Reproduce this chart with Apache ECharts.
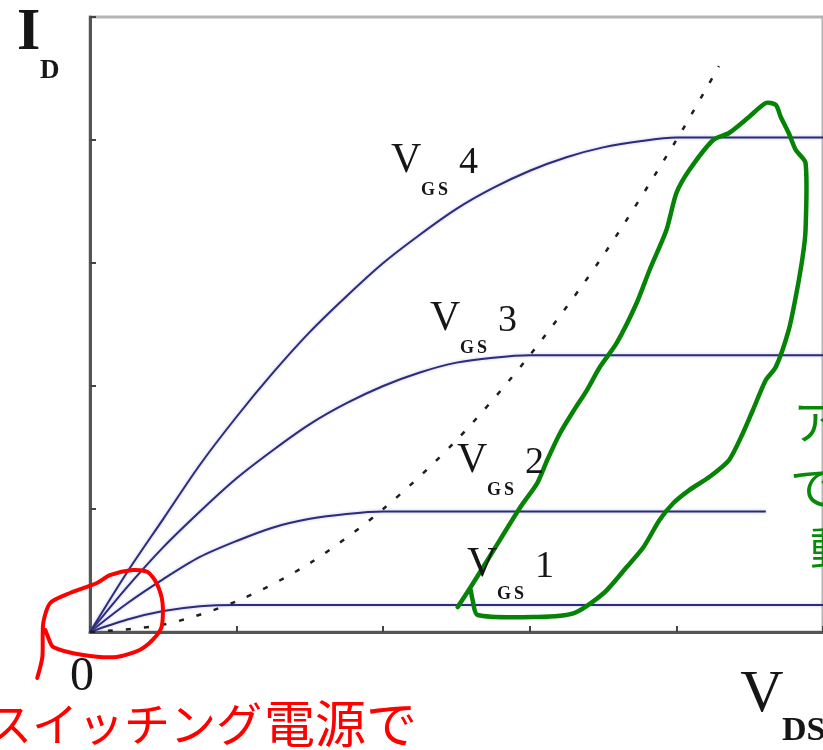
<!DOCTYPE html>
<html>
<head>
<meta charset="utf-8">
<script src="https://cdn.jsdelivr.net/npm/echarts@6/dist/echarts.min.js"></script>
<style>
html, body { margin: 0; padding: 0; background: #fff; }
#chart { width: 823px; height: 750px; }
</style>
</head>
<body>
<div id="chart"></div>
<script>
// V_DS - I_D 特性 (読み取り値)
const vdsRise = [0, 0.25, 0.5, 0.75, 1, 1.25, 1.5, 1.75, 2, 2.25, 2.5, 2.75, 3, 3.25, 3.5, 3.75, 4]
const id4 = [0, 0.48, 0.92, 1.36, 1.75, 2.11, 2.44, 2.73, 3.0, 3.23, 3.44, 3.61, 3.75, 3.86, 3.94, 3.99, 4.02]
const id3 = [0, 0.36, 0.69, 0.98, 1.25, 1.48, 1.69, 1.86, 2.0, 2.11, 2.19, 2.23, 2.25]
const id2 = [0, 0.23, 0.43, 0.61, 0.74, 0.85, 0.92, 0.96, 0.98]
const id1 = [0, 0.1, 0.17, 0.21, 0.22]
const vdsEnd = [5, 5, 4.61, 5] // 右端 (V_GS2 は白い枠で切れる)
// 飽和境界 (点線)
const satX = [0, 0.5, 1, 1.5, 2, 2.5, 3, 3.5, 4, 4.29]
const satY = [0, 0.06, 0.25, 0.56, 1, 1.56, 2.25, 3.06, 4, 4.6]
// 手書きの囲み
const redX = [-0.36, -0.325, -0.319, -0.271, -0.136, 0.047, 0.136, 0.292, 0.393, 0.454, 0.495, 0.488, 0.427, 0.339, 0.183, -0.047, -0.251, -0.292, -0.305]
const redY = [-0.374, -0.203, 0.073, 0.236, 0.317, 0.398, 0.463, 0.504, 0.488, 0.398, 0.236, 0.041, -0.065, -0.146, -0.203, -0.187, -0.122, -0.024, 0.016]
const greenX = [2.508, 2.597, 2.712, 2.936, 3.051, 3.119, 3.207, 3.302, 3.39, 3.478, 3.593, 3.729, 3.817, 3.932, 4.0, 4.088, 4.251, 4.359, 4.495, 4.61, 4.678, 4.712, 4.766, 4.814, 4.881, 4.881, 4.861, 4.814, 4.766, 4.678, 4.61, 4.522, 4.454, 4.359, 4.224, 4.088, 3.98, 3.885, 3.776, 3.661, 3.505, 3.302, 3.051, 2.644, 2.61, 2.597]
const greenY = [0.203, 0.366, 0.585, 1.016, 1.211, 1.398, 1.618, 1.805, 1.967, 2.154, 2.35, 2.675, 2.943, 3.268, 3.569, 3.756, 4.0, 4.057, 4.187, 4.301, 4.285, 4.187, 4.057, 3.919, 3.813, 3.268, 3.049, 2.724, 2.455, 2.154, 2.049, 1.805, 1.618, 1.398, 1.26, 1.154, 1.049, 0.911, 0.691, 0.528, 0.317, 0.154, 0.122, 0.138, 0.26, 0.341]
const gsLevels = ['1', '2', '3', '4']
const redText = ['スイッチング', '電源で']
const greenText = ['アナログ電源', 'で', '動作']

const pairs = (xs, ys) => xs.map((x, i) => [x, ys[i]])

const serif = '"Liberation Serif", "DejaVu Serif", serif'
const jp = '"Noto Sans CJK JP", sans-serif'

function txt(str, x, y, font, fill, align) {
	return {
		type: 'text',
		x: x,
		y: y,
		z: 100,
		style: {
			text: str,
			font: font,
			fill: fill || '#161616',
			align: align || 'left',
			textAlign: align || 'left',
			verticalAlign: 'middle',
			textVerticalAlign: 'middle',
		},
	}
}

// V_GS ラベル (V の左端, V の中心)
const labelPos = [[467, 565], [457, 461], [430, 319], [391, 161]]
const graphics = []
gsLevels.forEach((lv, i) => {
	const p = labelPos[i]
	graphics.push(txt('V', p[0], p[1], '42px ' + serif))
	graphics.push(txt('G', p[0] + 30, p[1] + 29, 'bold 18px ' + serif))
	graphics.push(txt('S', p[0] + 47, p[1] + 29, 'bold 18px ' + serif))
	graphics.push(txt(lv, p[0] + 68, p[1] + 2, '38px ' + serif))
})
graphics.push(txt('I', 17, 33, 'bold 60px ' + serif))
graphics.push(txt('D', 40, 71, 'bold 27px ' + serif))
graphics.push(txt('0', 82, 677, '48px ' + serif, null, 'center'))
graphics.push(txt('V', 762, 695, '60px ' + serif, null, 'center'))
graphics.push(txt('DS', 782, 731, 'bold 34px ' + serif))
graphics.push(txt(redText[0], -14, 724, '46px ' + jp, '#ff0000'))
graphics.push(txt(redText[1], 264, 724, '51px ' + jp, '#ff0000'))
graphics.push(txt(greenText[0], 793, 422, '46px ' + jp, '#078a07'))
graphics.push(txt(greenText[1], 790, 487, '46px ' + jp, '#078a07'))
graphics.push(txt(greenText[2], 810, 548, '46px ' + jp, '#078a07'))

function curve(ids, end) {
	const pts = pairs(vdsRise.slice(0, ids.length), ids)
	pts.push([end, ids[ids.length - 1]])
	return {
		type: 'line',
		data: pts,
		smooth: 0.3,
		symbol: 'none',
		lineStyle: {
			color: '#2c2c78',
			width: 2,
			shadowColor: 'rgba(110,110,210,0.45)',
			shadowBlur: 3,
		},
		z: 3,
	}
}

// 手書き線は軸の外にもはみ出すので custom で描く
function loop(xs, ys, color, width) {
	return {
		type: 'custom',
		data: [[xs[0], ys[0]]],
		clip: false,
		z: 10,
		renderItem: (params, api) => ({
			type: 'polyline',
			shape: { points: pairs(xs, ys).map((p) => api.coord(p)), smooth: 0.25 },
			style: { stroke: color, lineWidth: width, fill: null, lineJoin: 'round', lineCap: 'round' },
		}),
	}
}

const option = {
	animation: false,
	backgroundColor: '#fff',
	grid: {
		left: 90,
		top: 17,
		width: 737,
		height: 615,
		show: true,
		borderColor: '#b4b4b4',
		borderWidth: 3,
		backgroundColor: 'transparent',
	},
	xAxis: {
		type: 'value',
		min: 0,
		max: 5,
		interval: 1,
		axisLine: { show: true, lineStyle: { color: '#555', width: 3 } },
		axisTick: { show: true, inside: true, length: 6, lineStyle: { color: '#444', width: 2 } },
		axisLabel: { show: false },
		splitLine: { show: false },
	},
	yAxis: {
		type: 'value',
		min: 0,
		max: 5,
		interval: 1,
		axisLine: { show: true, lineStyle: { color: '#555', width: 3 } },
		axisTick: { show: true, inside: true, length: 6, lineStyle: { color: '#444', width: 2 } },
		axisLabel: { show: false },
		splitLine: { show: false },
	},
	series: [
		curve(id1, vdsEnd[0]),
		curve(id2, vdsEnd[2]),
		curve(id3, vdsEnd[1]),
		curve(id4, vdsEnd[3]),
		{
			type: 'line',
			data: pairs(satX, satY),
			smooth: 0.3,
			symbol: 'none',
			lineStyle: { color: '#1e1e1e', width: 2.5, type: [5, 13] },
			z: 4,
		},
		loop(redX, redY, '#ff0000', 4),
		loop(greenX, greenY, '#068206', 4.5),
	],
	graphic: graphics,
}

const chart = echarts.init(document.getElementById('chart'))
chart.setOption(option)
</script>
</body>
</html>
